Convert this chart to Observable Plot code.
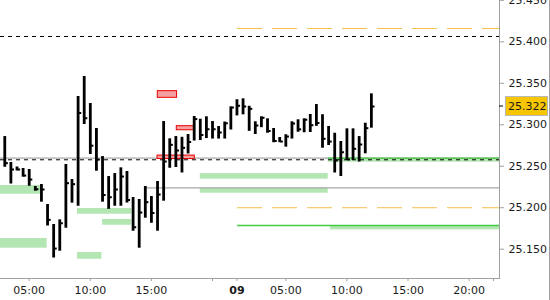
<!DOCTYPE html>
<html><head><meta charset="utf-8">
<script src="https://cdn.jsdelivr.net/npm/d3@7"></script>
<script src="https://cdn.jsdelivr.net/npm/@observablehq/plot@0.6"></script>
<style>
body{margin:0;background:#fff;}
#wrap{width:549px;height:300px;border-right:1px solid #a0a0a0;overflow:hidden;}
</style></head><body><div id="wrap"></div>
<script>
// 30-minute bars, slot index along trading time
const highs = [25.2858, 25.2545, 25.2491, 25.2473, 25.2461, 25.2256, 25.2280, 25.2039, 25.1798, 25.1854,
  25.2521, 25.2340, 25.3341, 25.3582, 25.3256, 25.2955, 25.2617, 25.2376, 25.2412, 25.2481,
  25.2437, 25.2123, 25.2099, 25.2256, 25.2135, 25.2316, 25.3039, 25.2831, 25.2858, 25.2849,
  25.2883, 25.3100, 25.3067, 25.3096, 25.3039, 25.2979, 25.3033, 25.3216, 25.3302, 25.3313,
  25.3223, 25.3036, 25.3096, 25.3072, 25.2955, 25.2846, 25.2880, 25.3036, 25.3060, 25.3072,
  25.3124, 25.3244, 25.3121, 25.2979, 25.2898, 25.2798, 25.2951, 25.2951, 25.2858, 25.3019, 25.3373];
const lows = [25.2488, 25.2286, 25.2443, 25.2368, 25.2259, 25.2199, 25.2067, 25.1780, 25.1394, 25.1476,
  25.1753, 25.2055, 25.2018, 25.3003, 25.2642, 25.2440, 25.2067, 25.1981, 25.2018, 25.2018,
  25.2057, 25.1717, 25.1512, 25.1874, 25.1813, 25.1717, 25.2079, 25.2476, 25.2485, 25.2419,
  25.2648, 25.2804, 25.2810, 25.2834, 25.2828, 25.2828, 25.2828, 25.2937, 25.3107, 25.3120,
  25.2921, 25.2883, 25.2965, 25.2898, 25.2784, 25.2784, 25.2730, 25.2828, 25.2910, 25.2904,
  25.2907, 25.2981, 25.2717, 25.2750, 25.2419, 25.2376, 25.2569, 25.2569, 25.2551, 25.2650, 25.2959];
const closes = [25.2537, 25.2461, 25.2461, 25.2388, 25.2340, 25.2223, 25.2220, 25.1854, 25.1508, 25.1813,
  25.2296, 25.2284, 25.3142, 25.3079, 25.2748, 25.2581, 25.2153, 25.2127, 25.2220, 25.2376,
  25.2093, 25.1765, 25.1942, 25.2067, 25.1936, 25.2159, 25.2557, 25.2758, 25.2690, 25.2722,
  25.2792, 25.3069, 25.2877, 25.2946, 25.2946, 25.2907, 25.3018, 25.3208, 25.3229, 25.3220,
  25.3192, 25.2991, 25.3084, 25.2925, 25.2804, 25.2798, 25.2858, 25.3015, 25.2945, 25.3061,
  25.2995, 25.3021, 25.2831, 25.2798, 25.2569, 25.2669, 25.2581, 25.2710, 25.2762, 25.2959, 25.3220];
const lastPrice = 25.322;

// x axis (slot index) ticks and labels
const tickSlots = [4, 14, 24, 34, 38, 46, 56, 66, 76, 80];
const tickLabels = ["05:00", "10:00", "15:00", "", "09", "05:00", "10:00", "15:00", "20:00", ""];
const yTicks = [25.15, 25.20, 25.25, 25.30, 25.35, 25.40, 25.45];
const xDomain = [-0.7, 80.97];
const yDomain = [25.1147, 25.4498];

// zones: [startSlot, endSlot, top, bottom]
const greenZones = [
  [-0.7, 5.9, 25.2268, 25.2163],
  [-0.7, 6.94, 25.1629, 25.1512],
  [11.9, 20.75, 25.1991, 25.1922],
  [16.0, 20.75, 25.1858, 25.1789],
  [11.9, 15.9, 25.1460, 25.1379],
  [32.0, 52.93, 25.2412, 25.2344],
  [32.0, 52.93, 25.2235, 25.2175],
  [52.93, 80.97, 25.2597, 25.2549],
  [53.3, 80.97, 25.1786, 25.1733]
];
const redZones = [
  [25.04, 28.2, 25.3405, 25.3325],
  [28.15, 31.1, 25.2983, 25.2934],
  [25.0, 31.1, 25.2629, 25.2587]
];
// level lines: [value, startSlot, endSlot]
const grayLines = [[25.2597, -0.7, 80.97], [25.2240, 23.0, 80.97]];
const greenLines = [[25.1786, 38.1, 80.97], [25.2597, 52.93, 80.97]];
const orangeLines = [[25.4160, 38.1, 80.97], [25.2000, 38.1, 80.97]];
const blackDashLines = [[25.4064, -0.7, 80.97], [25.2578, -0.7, 80.97]];

const bars = highs.map((h, i) => ({i, high: h, low: lows[i], close: closes[i]}));
const z = a => a.map(([x1, x2, y1, y2]) => ({x1, x2, y1, y2}));
const l = a => a.map(([y, x1, x2]) => ({y, x1, x2}));

const chart = Plot.plot({
  width: 549, height: 300,
  marginLeft: 0, marginRight: 50, marginTop: 0, marginBottom: 22,
  style: {fontFamily: "'DejaVu Sans', sans-serif", fontSize: "11px", color: "#a0a0a0", background: "#fff"},
  x: {domain: xDomain, ticks: tickSlots, tickFormat: d => tickLabels[tickSlots.indexOf(d)], tickSize: 3, tickPadding: 5, line: true, label: null},
  y: {domain: yDomain, axis: "right", ticks: yTicks, tickFormat: d => d.toFixed(3), tickSize: 4, tickPadding: 5, line: true, label: null},
  marks: [
    Plot.rect(z(greenZones), {x1: "x1", x2: "x2", y1: "y1", y2: "y2", fill: "#b4e6b4"}),
    Plot.ruleY(l(grayLines), {y: "y", x1: "x1", x2: "x2", stroke: "#a8a8a8", strokeWidth: 1.2}),
    Plot.ruleY(l(greenLines), {y: "y", x1: "x1", x2: "x2", stroke: "#44cc44", strokeWidth: 1.3}),
    Plot.ruleY(l(orangeLines), {y: "y", x1: "x1", x2: "x2", stroke: "#f6bd4c", strokeWidth: 1, strokeDasharray: "25,10"}),
    Plot.ruleY(l(blackDashLines), {y: "y", x1: "x1", x2: "x2", stroke: "#000", strokeWidth: 1, strokeDasharray: "4,4"}),
    Plot.rect(z(redZones), {x1: "x1", x2: "x2", y1: "y1", y2: "y2", fill: "#f4a0a0", stroke: "#e80000", strokeWidth: 1}),
    Plot.ruleX(bars, {x: "i", y1: "low", y2: "high", stroke: "#000", strokeWidth: 2.8}),
    Plot.ruleY(bars, {y: "close", x1: "i", x2: "i", insetLeft: 1, insetRight: -3.6, stroke: "#000", strokeWidth: 2})
  ]
});

chart.querySelectorAll("text").forEach(t => {
  t.setAttribute("fill", "#1a1a1a");
  if (t.textContent === "09") t.setAttribute("font-weight", "bold");
});

// last price label on the right axis
const ns = "http://www.w3.org/2000/svg";
const yy = chart.scale("y").apply(lastPrice);
const xr = chart.scale("x").apply(xDomain[1]);
const g = document.createElementNS(ns, "g");
const tk = document.createElementNS(ns, "line");
tk.setAttribute("x1", xr); tk.setAttribute("x2", xr + 4);
tk.setAttribute("y1", yy); tk.setAttribute("y2", yy);
tk.setAttribute("stroke", "#000");
const r = document.createElementNS(ns, "rect");
r.setAttribute("x", xr + 6.5); r.setAttribute("y", yy - 9.5);
r.setAttribute("width", 42); r.setAttribute("height", 19);
r.setAttribute("fill", "#f7c600"); r.setAttribute("stroke", "#b8b8b8");
const tx = document.createElementNS(ns, "text");
tx.setAttribute("x", xr + 9); tx.setAttribute("y", yy);
tx.setAttribute("dy", "0.35em");
tx.setAttribute("text-anchor", "start");
tx.setAttribute("font-family", "'DejaVu Sans', sans-serif");
tx.setAttribute("font-size", "11px");
tx.setAttribute("fill", "#1a1a1a");
tx.textContent = lastPrice.toFixed(3);
g.append(tk, r, tx);
chart.append(g);

document.getElementById("wrap").append(chart);
</script></body></html>
